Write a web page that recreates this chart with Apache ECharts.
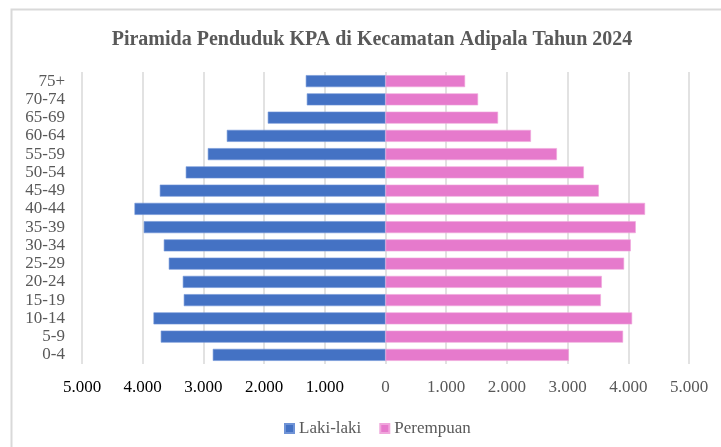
<!DOCTYPE html>
<html>
<head>
<meta charset="utf-8">
<script src="https://cdn.jsdelivr.net/npm/echarts@6/dist/echarts.min.js"></script>
<style>
  html, body { margin: 0; padding: 0; background: #fff; }
  #chart { width: 721px; height: 447px; }
</style>
</head>
<body>
<div id="chart"></div>
<script>
  // kelompok umur, dari bawah ke atas
  const ageGroups = ['0-4', '5-9', '10-14', '15-19', '20-24', '25-29', '30-34', '35-39',
    '40-44', '45-49', '50-54', '55-59', '60-64', '65-69', '70-74', '75+']
  const lakiLaki = [2845, 3702, 3822, 3323, 3339, 3570, 3652, 3982,
    4135, 3718, 3290, 2927, 2614, 1939, 1296, 1313]
  const perempuan = [3021, 3914, 4063, 3548, 3564, 3931, 4041, 4123,
    4276, 3515, 3268, 2824, 2396, 1854, 1525, 1311]
  const xTicks = [-5000, -4000, -3000, -2000, -1000, 0, 1000, 2000, 3000, 4000, 5000]

  const serif = '"Liberation Serif", "DejaVu Serif", serif'
  const fmt = (v) => {
    const n = Math.abs(v)
    return n === 0 ? '0' : n.toLocaleString('de-DE')
  }

  const chart = echarts.init(document.getElementById('chart'))
  chart.setOption({
    animation: false,
    backgroundColor: '#fff',
    graphic: [{
      type: 'rect',
      shape: { x: 11.5, y: 9.5, width: 800, height: 600 },
      style: { fill: 'none', stroke: '#d9d9d9', lineWidth: 2 },
      silent: true
    }],
    title: {
      text: 'Piramida Penduduk KPA di Kecamatan Adipala Tahun 2024',
      left: 372,
      top: 25,
      textAlign: 'center',
      textStyle: { fontFamily: serif, fontSize: 20, fontWeight: 'bold', color: '#595959' }
    },
    legend: {
      left: 279,
      top: 415,
      itemWidth: 9,
      itemHeight: 9,
      itemGap: 18,
      icon: 'rect',
      textStyle: { fontFamily: serif, fontSize: 17, color: '#595959' },
      data: ['Laki-laki', 'Perempuan']
    },
    grid: { left: 82, right: 32, top: 72, bottom: 83 },
    xAxis: {
      type: 'value',
      min: xTicks[0],
      max: xTicks[xTicks.length - 1],
      interval: 1000,
      axisLine: { show: false },
      axisTick: { show: false },
      splitLine: { lineStyle: { color: '#d9d9d9', width: 1.5 } },
      axisLabel: {
        margin: 15,
        fontFamily: serif,
        fontSize: 17,
        color: (v) => (v < 0 ? '#000' : '#595959'),
        formatter: fmt
      }
    },
    yAxis: {
      type: 'category',
      data: ageGroups,
      axisLine: { show: false },
      axisTick: { show: false },
      axisLabel: { interval: 0, margin: 17, fontFamily: serif, fontSize: 17, color: '#595959' }
    },
    series: [{
      name: 'Laki-laki',
      type: 'bar',
      barWidth: 12,
      barGap: '-100%',
      itemStyle: { color: '#4472C4', borderColor: '#6f93d6', borderWidth: 0.6 },
      data: lakiLaki.map((v) => -v)
    }, {
      name: 'Perempuan',
      type: 'bar',
      barWidth: 12,
      itemStyle: { color: '#E67ACC', borderColor: '#f0a6dc', borderWidth: 0.6 },
      data: perempuan
    }]
  })
  // geser judul sedikit ke kiri supaya sejajar dengan referensi
  chart.setOption({ title: { left: 367 } })
</script>
</body>
</html>
